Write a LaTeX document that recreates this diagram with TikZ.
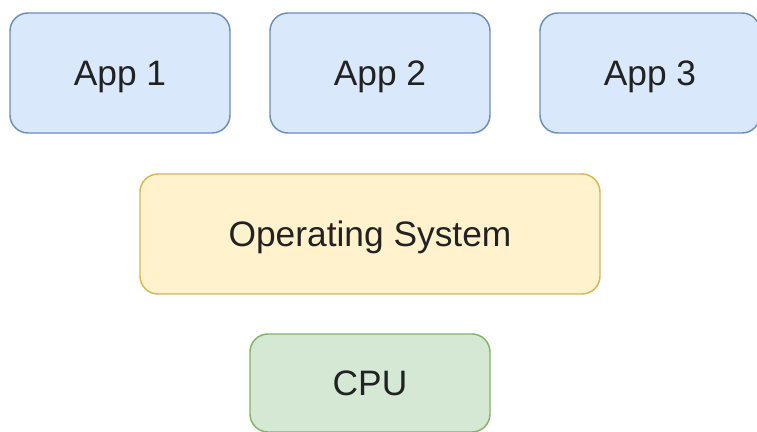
\documentclass[tikz,border=0pt]{standalone}
\usepackage{fontspec}
\setmainfont{Liberation Sans}
\definecolor{bluefill}{HTML}{DAE8FC}
\definecolor{bluedraw}{HTML}{6C8EBF}
\definecolor{yellowfill}{HTML}{FFF2CC}
\definecolor{yellowdraw}{HTML}{D6B656}
\definecolor{greenfill}{HTML}{D5E8D4}
\definecolor{greendraw}{HTML}{82B366}
\definecolor{txt}{HTML}{222222}
\tikzset{
  box/.style={rectangle, rounded corners=13.5pt, line width=1.1pt, minimum height=90pt,
    inner sep=0pt, text height=19pt, text depth=0pt, text=txt,
    font=\fontsize{26.5}{30}\selectfont},
  appbox/.style={box, fill=bluefill, draw=bluedraw, minimum width=165pt},
  osbox/.style={box, fill=yellowfill, draw=yellowdraw, minimum width=345pt},
  cpubox/.style={box, fill=greenfill, draw=greendraw, minimum width=180pt, minimum height=73.5pt}
}
\begin{document}
\begin{tikzpicture}[x=0.75pt,y=-0.75pt]
\useasboundingbox (0,0) rectangle (757,432);
\clip (0,0) rectangle (757,432);
\node[appbox] (app1) at (120,73) {App 1};
\node[appbox] (app2) at (380,73) {App 2};
\node[appbox] (app3) at (650,73) {App 3};
\node[osbox] (os) at (370,234) {Operating System};
\node[cpubox] (cpu) at (370,383) {CPU};
\end{tikzpicture}
\end{document}
